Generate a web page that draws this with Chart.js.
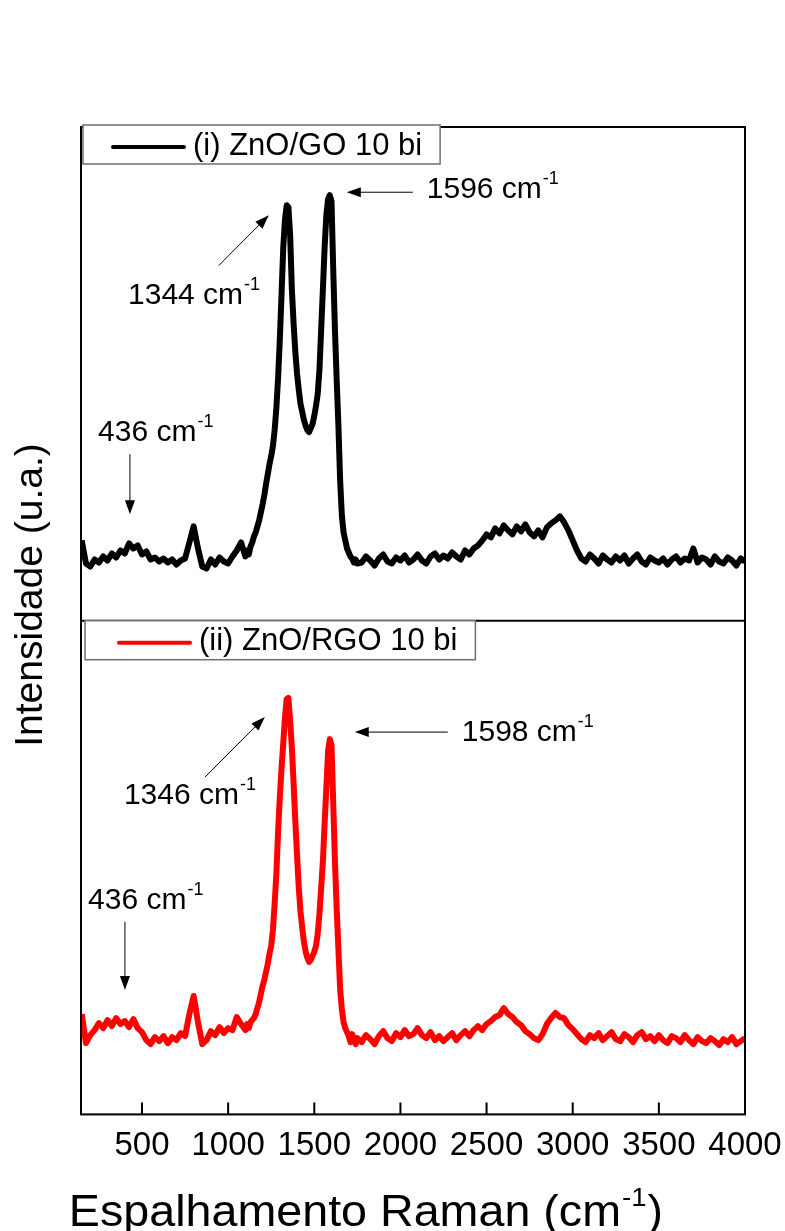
<!DOCTYPE html>
<html>
<head>
<meta charset="utf-8">
<script src="https://cdn.jsdelivr.net/npm/chart.js@4.4.1/dist/chart.umd.min.js"></script>
<style>
  html, body { margin: 0; padding: 0; background: #fff; }
  #grafica { display: block; }
</style>
</head>
<body>
<canvas id="grafica" width="785" height="1231"></canvas>
<script>
// Desplazamiento Raman (cm-1), paso mas fino en la zona de las bandas D y G
const ramanShift = [
  150, 175, 200, 225, 250, 275, 300, 325, 350, 375, 400, 425, 450, 475, 500, 525, 550, 575, 600, 625,
  650, 675, 700, 725, 750, 775, 800, 825, 850, 875, 900, 925, 950, 975, 1000, 1025, 1050, 1075, 1100,
  1110, 1120, 1130, 1140, 1150, 1160, 1170, 1180, 1190, 1200, 1210, 1220, 1230, 1240, 1250, 1260, 1270, 1280, 1290, 1300,
  1310, 1320, 1330, 1340, 1350, 1360, 1370, 1380, 1390, 1400, 1410, 1420, 1430, 1440, 1450, 1460, 1470, 1480, 1490, 1500,
  1510, 1520, 1530, 1540, 1550, 1560, 1570, 1580, 1590, 1600, 1610, 1620, 1630, 1640, 1650, 1660, 1670, 1680, 1690, 1700,
  1710, 1720, 1730, 1740, 1750,
  1775, 1800, 1825, 1850, 1875, 1900, 1925, 1950, 1975, 2000, 2025, 2050, 2075, 2100, 2125, 2150, 2175, 2200, 2225, 2250,
  2275, 2300, 2325, 2350, 2375, 2400, 2425, 2450, 2475, 2500, 2525, 2550, 2575, 2600, 2625, 2650, 2675, 2700, 2725, 2750,
  2775, 2800, 2825, 2850, 2875, 2900, 2925, 2950, 2975, 3000, 3025, 3050, 3075, 3100, 3125, 3150, 3175, 3200, 3225, 3250,
  3275, 3300, 3325, 3350, 3375, 3400, 3425, 3450, 3475, 3500, 3525, 3550, 3575, 3600, 3625, 3650, 3675, 3700, 3725, 3750,
  3775, 3800, 3825, 3850, 3875, 3900, 3925, 3950, 3975, 4000
];

// (i) ZnO/GO 10 bi (u.a.)
const intensidadeGO = [
  80, 57, 54, 61, 58, 64, 60, 67, 63, 70, 67, 77, 72, 75, 66, 69, 61, 63, 59, 62,
  58, 61, 56, 60, 62, 78, 94, 72, 54, 52, 61, 56, 63, 59, 57, 64, 70, 78, 64,
  70, 66, 74, 78, 84, 88, 94, 100, 108, 116, 125, 136, 146, 156, 164, 174, 190, 212, 242, 280,
  325, 372, 400, 414, 412, 384, 330, 296, 268, 246, 230, 216, 208, 200, 194, 190, 188, 192, 196, 204,
  214, 226, 250, 290, 330, 372, 404, 420, 424, 418, 350, 290, 240, 195, 140, 105, 88, 80, 72, 68,
  64, 62, 58, 61, 57,
  58, 64, 60, 55, 62, 66, 59, 57, 63, 60, 65, 58, 61, 66, 60, 57, 64, 67, 61, 65,
  62, 68, 64, 61, 70, 66, 72, 75, 80, 86, 83, 92, 87, 95, 90, 86, 94, 89, 96, 88,
  84, 90, 83, 93, 97, 100, 104, 98, 90, 80, 70, 62, 59, 66, 62, 57, 65, 61, 58, 64,
  60, 65, 57, 62, 66, 59, 56, 63, 60, 58, 62, 56, 61, 64, 58, 62, 60, 72, 58, 63,
  61, 56, 64, 59, 57, 63, 60, 55, 62, 59
];

// (ii) ZnO/RGO 10 bi (u.a.)
const intensidadeRGO = [
  100, 71, 79, 84, 91, 86, 94, 88, 96, 90, 93, 87, 95, 86, 82, 74, 70, 77, 73, 78,
  71, 77, 74, 81, 78, 100, 118, 92, 70, 74, 83, 79, 87, 81, 86, 84, 97, 90, 84,
  90, 86, 92, 94, 96, 100, 106, 112, 120, 128, 134, 142, 150, 160, 168, 184, 210, 240, 282, 316,
  345, 370, 396, 414, 415, 392, 365, 330, 292, 258, 226, 202, 186, 172, 162, 156, 152, 154, 158, 162,
  168, 180, 200, 226, 252, 290, 325, 362, 374, 368, 310, 252, 205, 165, 125, 105, 92, 86, 82, 78,
  72, 80, 74, 70, 76,
  72, 79, 75, 70, 78, 83, 76, 73, 81, 77, 84, 78, 80, 86, 79, 76, 82, 74, 78, 73,
  77, 81, 74, 79, 83, 78, 84, 88, 84, 90, 93, 97, 99, 106, 100, 97, 92, 89, 83, 80,
  76, 74, 80, 90, 96, 101, 97, 96, 89, 85, 80, 75, 72, 79, 76, 81, 74, 78, 82, 75,
  73, 80, 77, 72, 79, 82, 75, 78, 73, 79, 74, 71, 78, 76, 72, 79, 74, 70, 77, 73,
  71, 76, 73, 69, 75, 72, 77, 70, 73, 76
];

const xTicks = [500, 1000, 1500, 2000, 2500, 3000, 3500, 4000];
const etiquetas = ['(i) ZnO/GO 10 bi', '(ii) ZnO/RGO 10 bi'];

// Anotaciones de picos: texto, ancla del texto y flecha (coordenadas de datos)
const notasGO = [
  { texto: '436 cm', tx: 245, ty: 179, desde: [430, 166], hasta: [430, 106] },
  { texto: '1344 cm', tx: 419, ty: 316, desde: [946, 354], hasta: [1236, 404] },
  { texto: '1596 cm', tx: 2153, ty: 421, desde: [2072, 427], hasta: [1689, 427] }
];
const notasRGO = [
  { texto: '436 cm', tx: 187, ty: 205, desde: [401, 192], hasta: [401, 124] },
  { texto: '1346 cm', tx: 395, ty: 309, desde: [865, 336], hasta: [1213, 396] },
  { texto: '1598 cm', tx: 2356, ty: 372, desde: [2275, 381], hasta: [1735, 381] }
];

const FUENTE = '"Liberation Sans", Arial, sans-serif';

// Texto con superindice "-1" al final (y un sufijo opcional)
function textoSup(ctx, base, sup, resto, x, y, size, supSize, subir) {
  ctx.font = size + 'px ' + FUENTE;
  ctx.fillText(base, x, y);
  let cx = x + ctx.measureText(base).width + 1;
  ctx.font = supSize + 'px ' + FUENTE;
  ctx.fillText(sup, cx, y - subir);
  cx += ctx.measureText(sup).width + 1;
  if (resto) {
    ctx.font = size + 'px ' + FUENTE;
    ctx.fillText(resto, cx, y);
  }
}

function anchoSup(ctx, base, sup, resto, size, supSize) {
  ctx.font = size + 'px ' + FUENTE;
  let w = ctx.measureText(base).width + ctx.measureText(resto || '').width + 2;
  ctx.font = supSize + 'px ' + FUENTE;
  return w + ctx.measureText(sup).width;
}

function flecha(ctx, x1, y1, x2, y2) {
  const ang = Math.atan2(y2 - y1, x2 - x1);
  const largo = 14, medio = 5;
  ctx.beginPath();
  ctx.moveTo(x1, y1);
  ctx.lineTo(x2 - Math.cos(ang) * largo * 0.8, y2 - Math.sin(ang) * largo * 0.8);
  ctx.stroke();
  ctx.beginPath();
  ctx.moveTo(x2, y2);
  ctx.lineTo(x2 - Math.cos(ang) * largo - Math.sin(ang) * medio, y2 - Math.sin(ang) * largo + Math.cos(ang) * medio);
  ctx.lineTo(x2 - Math.cos(ang) * largo + Math.sin(ang) * medio, y2 - Math.sin(ang) * largo - Math.cos(ang) * medio);
  ctx.closePath();
  ctx.fill();
}

function dibujarNotas(ctx, sx, sy, notas) {
  notas.forEach(n => {
    ctx.textAlign = 'left';
    ctx.textBaseline = 'alphabetic';
    textoSup(ctx, n.texto, '-1', '', sx.getPixelForValue(n.tx), sy.getPixelForValue(n.ty), 30, 18, 14);
    flecha(ctx, sx.getPixelForValue(n.desde[0]), sy.getPixelForValue(n.desde[1]),
      sx.getPixelForValue(n.hasta[0]), sy.getPixelForValue(n.hasta[1]));
  });
}

function leyenda(ctx, x, y, color, texto, ajuste) {
  ctx.font = '31px ' + FUENTE;
  const tw = ctx.measureText(texto).width;
  const w = 110 + ajuste + tw + 18, h = 39;
  ctx.fillStyle = '#fff';
  ctx.fillRect(x, y, w, h);
  ctx.strokeStyle = '#6e6e6e';
  ctx.lineWidth = 1.5;
  ctx.strokeRect(x, y, w, h);
  ctx.strokeStyle = color;
  ctx.lineWidth = 4;
  ctx.lineCap = 'round';
  ctx.beginPath();
  ctx.moveTo(x + 30 + ajuste, y + 22);
  ctx.lineTo(x + 101 + ajuste, y + 22);
  ctx.stroke();
  ctx.lineCap = 'butt';
  ctx.fillStyle = '#000';
  ctx.textAlign = 'left';
  ctx.textBaseline = 'middle';
  ctx.fillText(texto, x + 110 + ajuste, y + 21);
}

const marco = {
  id: 'marco',
  afterDraw(chart) {
    const { ctx, chartArea: { left, right, top, bottom }, scales } = chart;
    const sx = scales.x, yGO = scales.yGO, yRGO = scales.yRGO;
    const division = yGO.bottom;
    ctx.save();
    ctx.strokeStyle = '#000';
    ctx.fillStyle = '#000';
    ctx.lineWidth = 2;
    ctx.strokeRect(left, top, right - left, bottom - top);
    ctx.beginPath();
    ctx.moveTo(left, division);
    ctx.lineTo(right, division);
    xTicks.forEach(v => {
      const px = sx.getPixelForValue(v);
      ctx.moveTo(px, bottom);
      ctx.lineTo(px, bottom - 12);
    });
    ctx.stroke();

    ctx.lineWidth = 1;
    dibujarNotas(ctx, sx, yGO, notasGO);
    dibujarNotas(ctx, sx, yRGO, notasRGO);

    leyenda(ctx, left + 2, top - 2, '#000', etiquetas[0], 0);
    leyenda(ctx, left + 4, division, '#ff0000', etiquetas[1], 4);

    // titulos de ejes
    ctx.fillStyle = '#000';
    ctx.textAlign = 'left';
    ctx.textBaseline = 'alphabetic';
    const w = anchoSup(ctx, 'Espalhamento Raman (cm', '-1', ')', 44, 26) * 1.06;
    ctx.save();
    ctx.translate(366 - w / 2, 1226);
    ctx.scale(1.06, 1);
    textoSup(ctx, 'Espalhamento Raman (cm', '-1', ')', 0, 0, 44, 26, 20);
    ctx.restore();

    ctx.translate(31, 595);
    ctx.rotate(-Math.PI / 2);
    ctx.textAlign = 'center';
    ctx.textBaseline = 'middle';
    ctx.font = '39px ' + FUENTE;
    ctx.fillText('Intensidade (u.a.)', 0, 0);
    ctx.restore();
  }
};

const ejeY = {
  position: 'left',
  stack: 'paneles',
  stackWeight: 1,
  min: 0,
  max: 492,
  ticks: { display: false },
  grid: { display: false, drawTicks: false },
  border: { display: false }
};

const $grafica = document.querySelector('#grafica');
new Chart($grafica, {
  type: 'line',
  data: {
    datasets: [
      {
        label: etiquetas[0],
        data: ramanShift.map((x, i) => ({ x: x, y: intensidadeGO[i] })),
        yAxisID: 'yGO',
        borderColor: '#000000',
        borderWidth: 6,
        borderJoinStyle: 'round',
        pointRadius: 0,
        tension: 0
      },
      {
        label: etiquetas[1],
        data: ramanShift.map((x, i) => ({ x: x, y: intensidadeRGO[i] })),
        yAxisID: 'yRGO',
        borderColor: '#ff0000',
        borderWidth: 6,
        borderJoinStyle: 'round',
        pointRadius: 0,
        tension: 0
      }
    ]
  },
  options: {
    responsive: false,
    animation: false,
    layout: { padding: { left: 81, right: 40, top: 127, bottom: 53 } },
    plugins: { legend: { display: false }, tooltip: { enabled: false } },
    scales: {
      x: {
        type: 'linear',
        min: 146,
        max: 4000,
        afterBuildTicks: s => { s.ticks = xTicks.map(v => ({ value: v })); },
        afterFit: s => { s.paddingLeft = 0; s.paddingRight = 0; },
        grid: { display: false, drawTicks: false },
        border: { display: false },
        ticks: { color: '#000', padding: 12, font: { family: FUENTE, size: 33 }, callback: v => String(v) }
      },
      yRGO: Object.assign({}, ejeY),
      yGO: Object.assign({}, ejeY)
    }
  },
  plugins: [marco]
});
</script>
</body>
</html>
